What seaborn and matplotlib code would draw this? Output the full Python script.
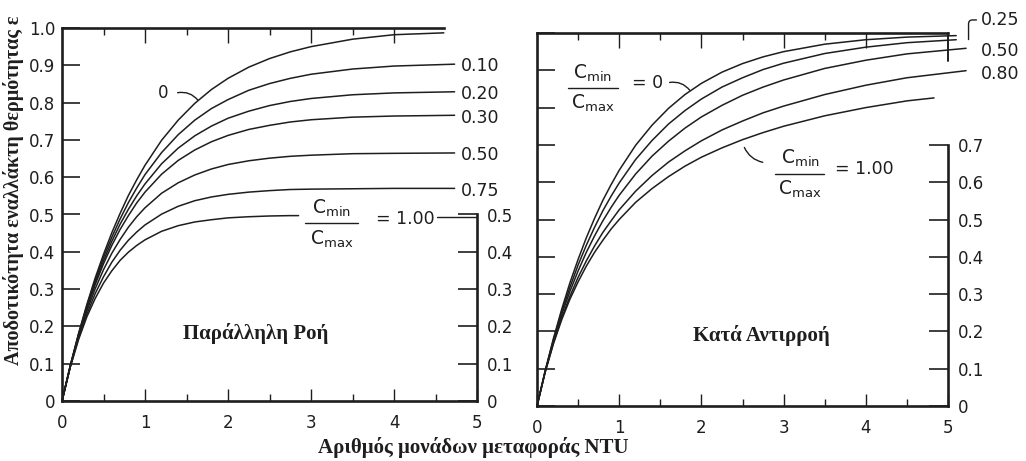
import numpy as np
import pandas as pd
import matplotlib
matplotlib.use("Agg")
import matplotlib.pyplot as plt
import seaborn as sns

# ---------------- data ----------------
ntu_grid = [0, 0.1, 0.2, 0.3, 0.4, 0.5, 0.6, 0.7, 0.8, 0.9, 1.0, 1.2, 1.4, 1.6, 1.8, 2.0,
            2.25, 2.5, 2.75, 3.0, 3.5, 4.0]
ntu_par = ntu_grid + [4.73]
ntu_par_c0 = ntu_grid + [4.6]
ntu_par_c100 = [0, 0.1, 0.2, 0.3, 0.4, 0.5, 0.6, 0.7, 0.8, 0.9, 1.0, 1.2, 1.4, 1.6, 1.8, 2.0,
                2.25, 2.5, 2.75, 2.85]

par_000 = [0, 0.095, 0.181, 0.259, 0.330, 0.393, 0.451, 0.503, 0.551, 0.593, 0.632, 0.699,
           0.753, 0.798, 0.835, 0.865, 0.895, 0.918, 0.936, 0.950, 0.970, 0.982, 0.987]
par_010 = [0, 0.095, 0.180, 0.256, 0.324, 0.385, 0.439, 0.488, 0.532, 0.571, 0.607, 0.666,
           0.714, 0.753, 0.784, 0.808, 0.833, 0.851, 0.865, 0.876, 0.890, 0.898, 0.903]
par_020 = [0, 0.094, 0.178, 0.252, 0.318, 0.376, 0.428, 0.474, 0.514, 0.550, 0.582, 0.636,
           0.678, 0.711, 0.737, 0.758, 0.777, 0.792, 0.803, 0.811, 0.821, 0.826, 0.829]
par_030 = [0, 0.094, 0.176, 0.248, 0.312, 0.368, 0.417, 0.460, 0.497, 0.531, 0.560, 0.608,
           0.645, 0.673, 0.695, 0.712, 0.728, 0.739, 0.748, 0.754, 0.761, 0.764, 0.766]
par_050 = [0, 0.093, 0.173, 0.242, 0.301, 0.352, 0.396, 0.433, 0.466, 0.494, 0.518, 0.557,
           0.585, 0.606, 0.622, 0.634, 0.644, 0.651, 0.656, 0.659, 0.663, 0.664, 0.665]
par_075 = [0, 0.092, 0.169, 0.233, 0.288, 0.333, 0.372, 0.404, 0.431, 0.453, 0.472, 0.501,
           0.522, 0.537, 0.547, 0.554, 0.560, 0.564, 0.567, 0.568, 0.569, 0.570, 0.570]
par_100 = [0, 0.091, 0.165, 0.226, 0.275, 0.316, 0.349, 0.377, 0.399, 0.417, 0.432, 0.455,
           0.470, 0.480, 0.486, 0.491, 0.494, 0.496, 0.497, 0.497]

ntu_cf_a = ntu_grid + [4.5, 5.1]
ntu_cf_b = ntu_grid + [4.5, 5.22]
ntu_cf_c = ntu_grid + [4.5, 4.83]

cf_000 = [0, 0.095, 0.181, 0.259, 0.330, 0.393, 0.451, 0.503, 0.551, 0.593, 0.632, 0.699,
          0.753, 0.798, 0.835, 0.865, 0.895, 0.918, 0.936, 0.950, 0.970, 0.982, 0.989, 0.993]
cf_025 = [0, 0.094, 0.178, 0.252, 0.318, 0.378, 0.431, 0.479, 0.523, 0.562, 0.598, 0.661,
          0.712, 0.756, 0.792, 0.823, 0.855, 0.880, 0.902, 0.919, 0.945, 0.962, 0.974, 0.982]
cf_050 = [0, 0.093, 0.174, 0.245, 0.307, 0.362, 0.412, 0.456, 0.496, 0.532, 0.565, 0.622,
          0.670, 0.710, 0.745, 0.775, 0.806, 0.833, 0.855, 0.874, 0.905, 0.927, 0.944, 0.959]
cf_080 = [0, 0.092, 0.169, 0.236, 0.294, 0.345, 0.389, 0.429, 0.465, 0.496, 0.526, 0.576,
          0.618, 0.654, 0.684, 0.711, 0.740, 0.764, 0.786, 0.804, 0.835, 0.860, 0.880, 0.899]
cf_100 = [0, 0.091, 0.167, 0.231, 0.286, 0.333, 0.375, 0.412, 0.444, 0.474, 0.500, 0.546,
          0.583, 0.615, 0.643, 0.667, 0.692, 0.714, 0.733, 0.750, 0.778, 0.800, 0.818, 0.826]

par_labels = ["0.10", "0.20", "0.30", "0.50", "0.75"]
cf_labels = ["0.25", "0.50", "0.80"]
x_ticks = [0, 1, 2, 3, 4, 5]
x_ticklabels = ["0", "1", "2", "3", "4", "5"]
y_ticks = [0, 0.1, 0.2, 0.3, 0.4, 0.5, 0.6, 0.7, 0.8, 0.9, 1.0]
y_ticklabels = ["0", "0.1", "0.2", "0.3", "0.4", "0.5", "0.6", "0.7", "0.8", "0.9", "1.0"]

title_par = "Παράλληλη Ροή"
title_cf = "Κατά Αντιρροή"
xlabel = "Αριθμός μονάδων μεταφοράς NTU"
ylabel = "Αποδοτικότητα εναλλάκτη θερμότητας ε"

# ---------------- style ----------------
sns.set_theme(style="white")
plt.rcParams["font.family"] = ["DejaVu Sans"]
plt.rcParams["mathtext.fontset"] = "dejavusans"
INK = "#1e1e1e"
SERIF = ["Liberation Serif", "DejaVu Serif"]
TICK_FS = 12
LW = 1.1
SPW = 1.9

fig = plt.figure(figsize=(10.26, 4.61), dpi=100)
fig.patch.set_facecolor("white")

axL = fig.add_axes([62 / 1026, 60 / 461, 415 / 1026, 373 / 461])
axR = fig.add_axes([537 / 1026, 55 / 461, 411 / 1026, 373 / 461])

for ax in (axL, axR):
    ax.set_xlim(0, 5)
    ax.set_ylim(0, 1)
    ax.set_facecolor("white")
    ax.grid(False)
    for s in ("left", "bottom"):
        ax.spines[s].set_linewidth(SPW)
        ax.spines[s].set_color(INK)
    ax.spines["top"].set_visible(False)
    ax.spines["right"].set_visible(False)
    ax.set_xticks(x_ticks)
    ax.set_xticklabels(x_ticklabels)
    ax.set_xticks([0.5, 1.5, 2.5, 3.5, 4.5], minor=True)
    ax.set_yticks(y_ticks)
    ax.tick_params(axis="x", which="major", direction="in", length=9, width=1.0,
                   color=INK, labelsize=TICK_FS, labelcolor=INK, pad=9, bottom=True)
    ax.tick_params(axis="x", which="minor", direction="in", length=5, width=1.0,
                   color=INK, bottom=True)
    ax.tick_params(axis="y", which="major", direction="in", length=13, width=1.2,
                   color=INK, labelsize=TICK_FS, labelcolor=INK, pad=5, left=True)
    ax.set_xlabel("")
    ax.set_ylabel("")

axL.set_yticklabels(y_ticklabels)
axR.set_yticklabels([])


def top_axis(ax, right_end):
    t = ax.twiny()
    t.set_xlim(0, 5)
    t.set_xticks([1, 2, 3, 4])
    t.set_xticks([0.5, 1.5, 2.5, 3.5], minor=True)
    t.tick_params(axis="x", which="major", direction="in", length=11, width=1.0,
                  color=INK, top=True, labeltop=False)
    t.tick_params(axis="x", which="minor", direction="in", length=5, width=1.0,
                  color=INK, top=True)
    for s in ("left", "right", "bottom"):
        t.spines[s].set_visible(False)
    t.spines["top"].set_bounds(0, right_end)
    t.spines["top"].set_linewidth(SPW)
    t.spines["top"].set_color(INK)
    t.grid(False)
    return t


def right_axis(ax, top_val, ticks):
    r = ax.twinx()
    r.set_ylim(0, 1)
    r.set_yticks(ticks)
    r.set_yticklabels([y_ticklabels[y_ticks.index(v)] for v in ticks])
    r.tick_params(axis="y", direction="in", length=14, width=1.2, color=INK,
                  labelsize=TICK_FS, labelcolor=INK, pad=7, right=True)
    for s in ("left", "top", "bottom"):
        r.spines[s].set_visible(False)
    r.spines["right"].set_bounds(0, top_val)
    r.spines["right"].set_linewidth(SPW)
    r.spines["right"].set_color(INK)
    r.grid(False)
    return r


top_axis(axL, 4.6)
right_axis(axL, 0.5, [0, 0.1, 0.2, 0.3, 0.4, 0.5])
top_axis(axR, 5.0)
right_axis(axR, 0.7, [0, 0.1, 0.2, 0.3, 0.4, 0.5, 0.6, 0.7])
axR.axvline(5.0, ymin=0.925, ymax=1.0, color=INK, lw=1.4, clip_on=False)


def curve(ax, xs, ys):
    sns.lineplot(x=xs, y=ys, ax=ax, color=INK, lw=LW, clip_on=False,
                 sort=False, legend=False)


# ---------------- parallel flow ----------------
curve(axL, ntu_par_c0, par_000)
for ys in (par_010, par_020, par_030, par_050, par_075):
    curve(axL, ntu_par, ys)
curve(axL, ntu_par_c100, par_100)

for lab, ys in zip(par_labels, (par_010, par_020, par_030, par_050, par_075)):
    axL.text(ntu_par[-1] + 0.07, ys[-1] - 0.006, lab, fontsize=12.5, color=INK,
             ha="left", va="center", clip_on=False)

axL.text(1.22, 0.827, "0", fontsize=12, color=INK, ha="center", va="center")
axL.annotate("", xy=(1.66, 0.80), xytext=(1.36, 0.825),
             arrowprops=dict(arrowstyle="-", color=INK, lw=1.0,
                             connectionstyle="arc3,rad=-0.35"))


def fraction(ax, xc, ybar, x0, x1, rest, rest_x):
    ax.text(xc, ybar + 0.04, r"$\mathsf{C}_{\mathsf{min}}$", fontsize=13.5,
            color=INK, ha="center", va="center")
    ax.plot([x0, x1], [ybar, ybar], color=INK, lw=1.0)
    ax.text(xc, ybar - 0.042, r"$\mathsf{C}_{\mathsf{max}}$", fontsize=13.5,
            color=INK, ha="center", va="center")
    ax.text(rest_x, ybar + 0.012, rest, fontsize=12.5, color=INK,
            ha="left", va="center")


fraction(axL, 3.25, 0.476, 2.93, 3.57, "= 1.00", 3.78)
axL.plot([4.52, 5.0], [0.492, 0.492], color=INK, lw=1.0)

axL.text(2.33, 0.18, title_par, fontsize=15, fontweight="bold",
         family=SERIF, color=INK, ha="center", va="center")

# ---------------- counterflow ----------------
curve(axR, ntu_cf_a, cf_000)
curve(axR, ntu_cf_a, cf_025)
curve(axR, ntu_cf_b, cf_050)
curve(axR, ntu_cf_b, cf_080)
curve(axR, ntu_cf_c, cf_100)

axR.text(5.40, 1.035, cf_labels[0], fontsize=12.5, color=INK, ha="left",
         va="center", clip_on=False)
axR.annotate("", xy=(5.25, 0.975), xytext=(5.38, 1.035),
             arrowprops=dict(arrowstyle="-", color=INK, lw=1.0,
                             connectionstyle="angle,angleA=180,angleB=90,rad=4"),
             annotation_clip=False)
axR.text(5.40, 0.952, cf_labels[1], fontsize=12.5, color=INK, ha="left",
         va="center", clip_on=False)
axR.text(5.40, 0.889, cf_labels[2], fontsize=12.5, color=INK, ha="left",
         va="center", clip_on=False)

fraction(axR, 0.68, 0.853, 0.38, 0.99, "= 0", 1.16)
axR.annotate("", xy=(1.88, 0.84), xytext=(1.58, 0.866),
             arrowprops=dict(arrowstyle="-", color=INK, lw=1.0,
                             connectionstyle="arc3,rad=-0.35"))

fraction(axR, 3.2, 0.623, 2.9, 3.49, "= 1.00", 3.62)
axR.annotate("", xy=(2.51, 0.70), xytext=(2.78, 0.652),
             arrowprops=dict(arrowstyle="-", color=INK, lw=1.0,
                             connectionstyle="arc3,rad=-0.3"))

axR.text(2.73, 0.19, title_cf, fontsize=15, fontweight="bold",
         family=SERIF, color=INK, ha="center", va="center")

# ---------------- shared labels ----------------
fig.text(473 / 1026, 1 - 447 / 461, xlabel, fontsize=15, fontweight="bold",
         family=SERIF, color=INK, ha="center", va="center")
fig.text(14 / 1026, 1 - 190 / 461, ylabel, fontsize=14.5, fontweight="bold",
         family=SERIF, color=INK, ha="center", va="center", rotation=90)

fig.savefig("out.png", dpi=100, facecolor="white")
